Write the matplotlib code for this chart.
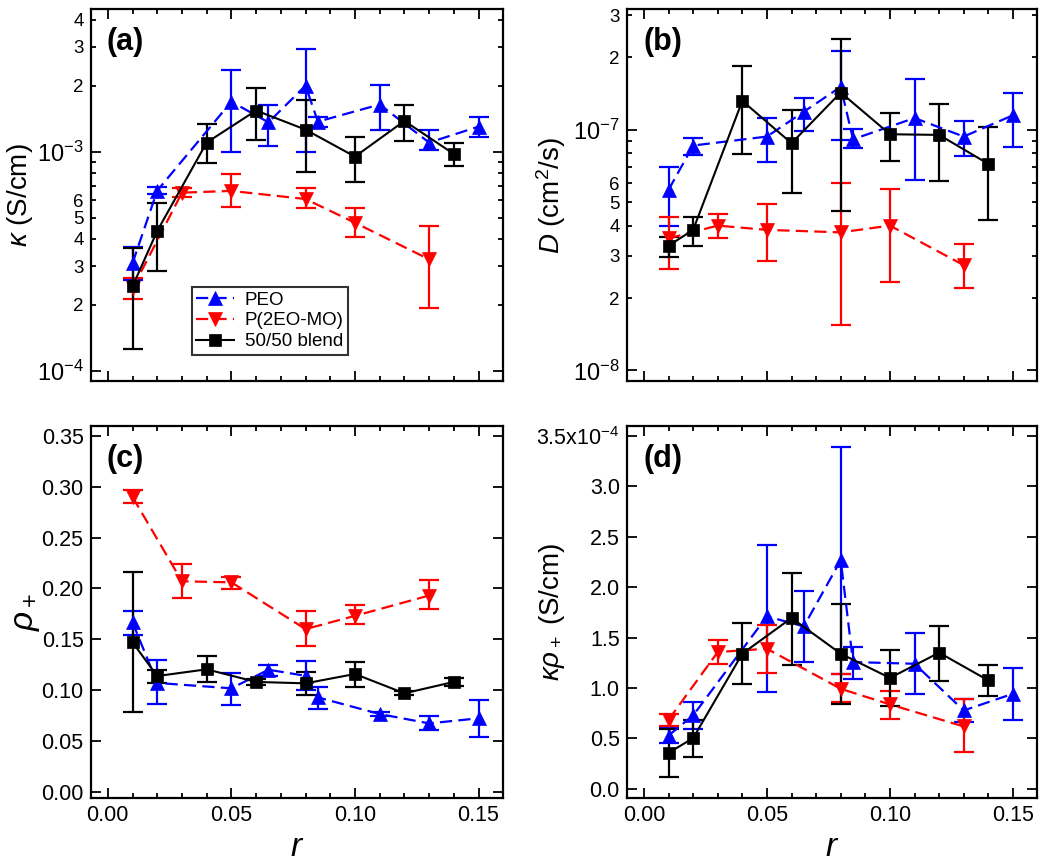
import numpy as np
import matplotlib
matplotlib.use("Agg")
import matplotlib.pyplot as plt
from matplotlib.ticker import LogLocator, FuncFormatter, MultipleLocator, FixedLocator, FixedFormatter, NullFormatter

plt.rcParams['font.family'] = ['Liberation Sans', 'DejaVu Sans']
plt.rcParams['mathtext.fontset'] = 'custom'
plt.rcParams['mathtext.rm'] = 'Liberation Sans'
plt.rcParams['mathtext.it'] = 'Liberation Sans:italic'
plt.rcParams['mathtext.bf'] = 'Liberation Sans:bold'

# ---------------- data ----------------
x_peo = [0.01, 0.02, 0.05, 0.065, 0.08, 0.085, 0.11, 0.13, 0.15]
x_p2 = [0.01, 0.03, 0.05, 0.08, 0.10, 0.13]
x_bl = [0.01, 0.02, 0.04, 0.06, 0.08, 0.10, 0.12, 0.14]

# (a) conductivity kappa (S/cm)
ka_peo = [3.10e-4, 6.64e-4, 1.69e-3, 1.36e-3, 2.0e-3, 1.37e-3, 1.64e-3, 1.10e-3, 1.30e-3]
ka_peo_hi = [3.66e-4, 6.9e-4, 2.35e-3, 1.63e-3, 2.94e-3, 1.44e-3, 2.01e-3, 1.25e-3, 1.44e-3]
ka_peo_lo = [2.6e-4, 6.4e-4, 1.0e-3, 1.06e-3, 1.0e-3, 1.29e-3, 1.25e-3, 1.02e-3, 1.16e-3]
ka_p2 = [2.38e-4, 6.50e-4, 6.62e-4, 6.08e-4, 4.74e-4, 3.23e-4]
ka_p2_hi = [2.65e-4, 6.8e-4, 7.91e-4, 6.80e-4, 5.56e-4, 4.58e-4]
ka_p2_lo = [2.12e-4, 6.2e-4, 5.57e-4, 5.56e-4, 4.06e-4, 1.93e-4]
ka_bl = [2.43e-4, 4.35e-4, 1.10e-3, 1.54e-3, 1.26e-3, 9.49e-4, 1.38e-3, 9.76e-4]
ka_bl_hi = [3.62e-4, 5.85e-4, 1.34e-3, 1.96e-3, 1.72e-3, 1.16e-3, 1.64e-3, 1.10e-3]
ka_bl_lo = [1.26e-4, 2.86e-4, 8.85e-4, 1.13e-3, 8.11e-4, 7.30e-4, 1.12e-3, 8.6e-4]

# (b) diffusion coefficient D (cm^2/s)
D_peo = [5.63e-8, 8.61e-8, 9.38e-8, 1.19e-7, 1.51e-7, 9.14e-8, 1.12e-7, 9.38e-8, 1.15e-7]
D_peo_hi = [7.03e-8, 9.23e-8, 1.12e-7, 1.36e-7, 2.12e-7, 1.01e-7, 1.62e-7, 1.09e-7, 1.43e-7]
D_peo_lo = [3.99e-8, 7.87e-8, 7.34e-8, 9.94e-8, 9.09e-8, 8.39e-8, 6.19e-8, 7.79e-8, 8.52e-8]
D_p2 = [3.54e-8, 4.0e-8, 3.84e-8, 3.75e-8, 4.0e-8, 2.74e-8]
D_p2_hi = [4.35e-8, 4.45e-8, 4.92e-8, 6.0e-8, 5.66e-8, 3.36e-8]
D_p2_lo = [2.65e-8, 3.54e-8, 2.85e-8, 1.55e-8, 2.34e-8, 2.21e-8]
D_bl = [3.30e-8, 3.84e-8, 1.32e-7, 8.80e-8, 1.43e-7, 9.59e-8, 9.53e-8, 7.22e-8]
D_bl_hi = [3.6e-8, 4.33e-8, 1.84e-7, 1.21e-7, 2.38e-7, 1.17e-7, 1.28e-7, 1.03e-7]
D_bl_lo = [2.97e-8, 3.30e-8, 7.92e-8, 5.48e-8, 4.6e-8, 7.43e-8, 6.14e-8, 4.22e-8]

# (c) current fraction rho+
rho_peo = [0.1666, 0.107, 0.1017, 0.120, 0.114, 0.0928, 0.0764, 0.0672, 0.0722]
rho_peo_hi = [0.178, 0.130, 0.1164, 0.125, 0.1286, 0.1027, 0.0784, 0.0748, 0.090]
rho_peo_lo = [0.154, 0.086, 0.0853, 0.114, 0.100, 0.081, 0.0744, 0.0607, 0.0535]
rho_p2 = [0.290, 0.207, 0.206, 0.160, 0.173, 0.193]
rho_p2_hi = [0.297, 0.224, 0.2115, 0.178, 0.184, 0.208]
rho_p2_lo = [0.284, 0.191, 0.1994, 0.1437, 0.165, 0.180]
rho_bl = [0.147, 0.1138, 0.1204, 0.108, 0.1066, 0.1158, 0.0968, 0.108]
rho_bl_hi = [0.216, 0.120, 0.1335, 0.111, 0.118, 0.128, 0.099, 0.112]
rho_bl_lo = [0.078, 0.107, 0.108, 0.105, 0.095, 0.103, 0.0948, 0.104]

# (d) kappa*rho+ (units of 1e-4 S/cm)
kr_peo = [0.529, 0.728, 1.71, 1.61, 2.266, 1.257, 1.24, 0.777, 0.943]
kr_peo_hi = [0.61, 0.86, 2.42, 1.96, 3.39, 1.41, 1.54, 0.893, 1.197]
kr_peo_lo = [0.45, 0.595, 0.96, 1.257, 1.14, 1.09, 0.943, 0.66, 0.678]
kr_p2 = [0.685, 1.356, 1.389, 0.992, 0.837, 0.619]
kr_p2_hi = [0.738, 1.472, 1.628, 1.135, 0.969, 0.887]
kr_p2_lo = [0.628, 1.24, 1.148, 0.86, 0.695, 0.37]
kr_bl = [0.357, 0.503, 1.34, 1.694, 1.34, 1.10, 1.35, 1.075]
kr_bl_hi = [0.595, 0.685, 1.647, 2.144, 1.836, 1.379, 1.611, 1.224]
kr_bl_lo = [0.116, 0.321, 1.035, 1.224, 0.844, 0.817, 1.068, 0.92]

series_names = ['PEO', 'P(2EO-MO)', '50/50 blend']
kr_ticks = [0.0, 0.5, 1.0, 1.5, 2.0, 2.5, 3.0, 3.5]
kr_ticklabels = ['0.0', '0.5', '1.0', '1.5', '2.0', '2.5', '3.0', '3.5x10$^{-4}$']
r_ticks = [0.00, 0.05, 0.10, 0.15]

# ---------------- figure ----------------
W, H = 1050, 868
fig = plt.figure(figsize=(W / 100, H / 100), dpi=100)

def frac(l, t, r, b):
    return [l / W, 1 - b / H, (r - l) / W, (b - t) / H]

ax_a = fig.add_axes(frac(90.5, 9, 503, 381))
ax_b = fig.add_axes(frac(626.7, 9, 1037.3, 381))
ax_c = fig.add_axes(frac(90.5, 426, 503, 798.3))
ax_d = fig.add_axes(frac(626.7, 426, 1037.3, 798.3))

styles = [
    dict(color='#0000ff', marker='^', ms=10, ls=(0, (5.5, 2.8)), lw=1.6),
    dict(color='#ff0000', marker='v', ms=10, ls=(0, (5.5, 2.8)), lw=1.6),
    dict(color='#000000', marker='s', ms=8.5, ls='-', lw=1.5),
]

def draw(ax, data):
    handles = []
    for (x, y, lo, hi), st, name in zip(data, styles, series_names):
        y = np.asarray(y); lo = np.asarray(lo); hi = np.asarray(hi)
        ax.errorbar(x, y, yerr=[y - lo, hi - y], fmt='none', ecolor=st['color'],
                    elinewidth=1.6, capsize=7.5, capthick=1.6, zorder=2)
        h, = ax.plot(x, y, color=st['color'], marker=st['marker'], ms=st['ms'],
                     ls=st['ls'], lw=st['lw'], label=name, zorder=3,
                     markeredgewidth=0.5)
        handles.append(h)
    return handles

def style_axes(ax):
    for s in ax.spines.values():
        s.set_linewidth(1.6)
    ax.tick_params(which='both', direction='in', top=True, right=True, width=1.3, labelsize=15.5, pad=5)
    ax.tick_params(which='major', length=7)
    ax.tick_params(which='minor', length=3.5)
    ax.set_xlim(-0.007, 0.1599)
    ax.xaxis.set_major_locator(FixedLocator(r_ticks))
    ax.xaxis.set_minor_locator(MultipleLocator(0.01))

def log_fmt_major(v, pos):
    e = int(np.round(np.log10(v)))
    return r'10$^{%d}$' % e

def log_fmt_minor(v, pos):
    e = np.floor(np.log10(v) + 1e-9)
    m = int(np.round(v / 10 ** e))
    return str(m) if m in (2, 3, 4, 5, 6) else ''

def style_log(ax):
    ax.set_yscale('log')
    ax.yaxis.set_major_locator(LogLocator(base=10, numticks=10))
    ax.yaxis.set_minor_locator(LogLocator(base=10, subs=np.arange(2, 10), numticks=20))
    ax.yaxis.set_major_formatter(FuncFormatter(log_fmt_major))
    ax.yaxis.set_minor_formatter(FuncFormatter(log_fmt_minor))
    ax.tick_params(axis='y', which='minor', labelsize=13.5)
    ax.tick_params(axis='y', which='major', labelsize=17)

# (a)
hs = draw(ax_a, [(x_peo, ka_peo, ka_peo_lo, ka_peo_hi),
                 (x_p2, ka_p2, ka_p2_lo, ka_p2_hi),
                 (x_bl, ka_bl, ka_bl_lo, ka_bl_hi)])
style_axes(ax_a)
style_log(ax_a)
ax_a.set_ylim(9.0e-5, 4.47e-3)
ax_a.xaxis.set_major_formatter(NullFormatter())
ax_a.set_ylabel(r'$\kappa$ (S/cm)', fontsize=20)
ax_a.yaxis.set_label_coords(-0.135, 0.5)
leg = ax_a.legend(handles=hs, loc='lower left', bbox_to_anchor=(0.245, 0.07, 0.38, 0.2),
                  mode='expand', fontsize=13.5, frameon=True, fancybox=False,
                  edgecolor='black', handlelength=2.0, borderpad=0.25,
                  labelspacing=0.2, handletextpad=0.6, borderaxespad=0)
leg.get_frame().set_linewidth(1.5)

# (b)
draw(ax_b, [(x_peo, D_peo, D_peo_lo, D_peo_hi),
            (x_p2, D_p2, D_p2_lo, D_p2_hi),
            (x_bl, D_bl, D_bl_lo, D_bl_hi)])
style_axes(ax_b)
style_log(ax_b)
ax_b.set_ylim(9.04e-9, 3.18e-7)
ax_b.xaxis.set_major_formatter(NullFormatter())
ax_b.set_ylabel(r'$D$ (cm$^2$/s)', fontsize=20)
ax_b.yaxis.set_label_coords(-0.143, 0.5)

# (c)
draw(ax_c, [(x_peo, rho_peo, rho_peo_lo, rho_peo_hi),
            (x_p2, rho_p2, rho_p2_lo, rho_p2_hi),
            (x_bl, rho_bl, rho_bl_lo, rho_bl_hi)])
style_axes(ax_c)
ax_c.set_ylim(-0.0065, 0.3598)
ax_c.yaxis.set_major_locator(MultipleLocator(0.05))
ax_c.yaxis.set_major_formatter(FuncFormatter(lambda v, p: '%.2f' % v))
ax_c.xaxis.set_major_formatter(FuncFormatter(lambda v, p: '%.2f' % v))
ax_c.set_ylabel(r'$\rho_+$', fontsize=24)
ax_c.yaxis.set_label_coords(-0.118, 0.5)
ax_c.set_xlabel(r'$r$', fontsize=24)

# (d)
draw(ax_d, [(x_peo, kr_peo, kr_peo_lo, kr_peo_hi),
            (x_p2, kr_p2, kr_p2_lo, kr_p2_hi),
            (x_bl, kr_bl, kr_bl_lo, kr_bl_hi)])
style_axes(ax_d)
ax_d.set_ylim(-0.093, 3.596)
ax_d.yaxis.set_major_locator(FixedLocator(kr_ticks))
ax_d.yaxis.set_major_formatter(FixedFormatter(kr_ticklabels))
ax_d.xaxis.set_major_formatter(FuncFormatter(lambda v, p: '%.2f' % v))
ax_d.set_ylabel(r'$\kappa\rho_+$ (S/cm)', fontsize=20)
ax_d.yaxis.set_label_coords(-0.145, 0.5)
ax_d.set_xlabel(r'$r$', fontsize=24)

for ax, lab in zip([ax_a, ax_b, ax_c, ax_d], ['(a)', '(b)', '(c)', '(d)']):
    ax.text(0.04, 0.912, lab, transform=ax.transAxes, fontsize=22, fontweight='bold',
            ha='left', va='center')

fig.savefig('out.png', dpi=100)
